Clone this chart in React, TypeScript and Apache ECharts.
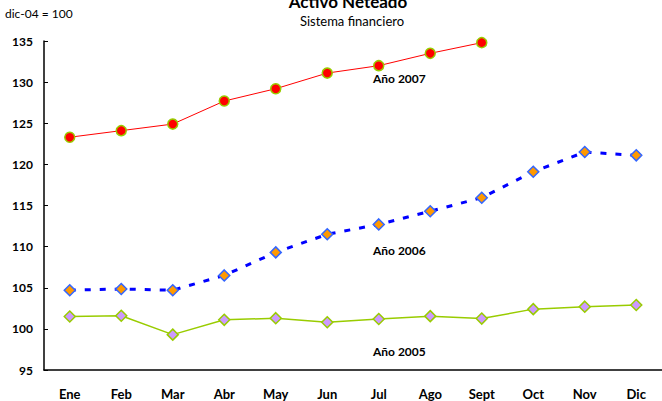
import React, { useEffect, useRef } from "react";
import * as echarts from "echarts";

const months = ["Ene", "Feb", "Mar", "Abr", "May", "Jun", "Jul", "Ago", "Sept", "Oct", "Nov", "Dic"];

const year2007 = [123.3, 124.1, 124.9, 127.7, 129.2, 131.1, 132.0, 133.5, 134.8];
const year2006 = [104.7, 104.85, 104.7, 106.5, 109.3, 111.5, 112.7, 114.3, 115.95, 119.1, 121.5, 121.1];
const year2005 = [101.5, 101.6, 99.3, 101.1, 101.3, 100.8, 101.2, 101.55, 101.25, 102.4, 102.7, 102.9];

const yTicks = { min: 95, max: 135, interval: 5 };

const FONT = "Lato, 'Open Sans', sans-serif";

export default function App() {
  const ref = useRef<HTMLDivElement>(null);

  useEffect(() => {
    if (!ref.current) return;
    const chart = echarts.init(ref.current, undefined, { renderer: "svg" });
    chart.setOption({
      animation: false,
      backgroundColor: "#ffffff",
      textStyle: { fontFamily: FONT },
      grid: { left: 44, top: 41, bottom: 31, width: 619, containLabel: false },
      xAxis: {
        type: "category",
        data: months,
        boundaryGap: true,
        axisLine: { lineStyle: { color: "#000", width: 1.5 } },
        axisTick: { inside: true, length: 4, lineStyle: { color: "#555" } },
        axisLabel: { color: "#000", fontWeight: "bold", fontSize: 13, margin: 17, fontFamily: FONT },
        splitLine: { show: false },
      },
      yAxis: {
        type: "value",
        min: yTicks.min,
        max: yTicks.max,
        interval: yTicks.interval,
        axisLine: { show: true, lineStyle: { color: "#000", width: 1.5 } },
        axisTick: { show: true, inside: true, length: 4, lineStyle: { color: "#000" } },
        axisLabel: { color: "#000", fontWeight: "bold", fontSize: 12, margin: 11, fontFamily: FONT },
        splitLine: { show: false },
      },
      graphic: [
        {
          type: "text",
          style: { text: "Activo Neteado", x: 348, y: -7, align: "center", font: `bold 17px ${FONT}`, fill: "#000" },
        },
        {
          type: "text",
          style: { text: "Sistema financiero", x: 352, y: 14, align: "center", font: `13px ${FONT}`, fill: "#000" },
        },
        {
          type: "text",
          style: { text: "dic-04 = 100", x: 5, y: 7, font: `12px ${FONT}`, fill: "#000" },
        },
        {
          type: "text",
          style: { text: "Año 2007", x: 373, y: 72, font: `bold 12px ${FONT}`, fill: "#000" },
        },
        {
          type: "text",
          style: { text: "Año 2006", x: 373, y: 244, font: `bold 12px ${FONT}`, fill: "#000" },
        },
        {
          type: "text",
          style: { text: "Año 2005", x: 373, y: 345, font: `bold 12px ${FONT}`, fill: "#000" },
        },
      ],
      series: [
        {
          name: "Año 2005",
          type: "line",
          data: year2005,
          symbol: "diamond",
          symbolSize: 11,
          lineStyle: { color: "#99cc00", width: 1.5 },
          itemStyle: { color: "#cc99ff", borderColor: "#99cc00", borderWidth: 1.5 },
        },
        {
          name: "Año 2006",
          type: "line",
          data: year2006,
          symbol: "diamond",
          symbolSize: 11,
          lineStyle: { color: "#0000ff", width: 3, type: [6, 9] },
          itemStyle: { color: "#ff9900", borderColor: "#3366ff", borderWidth: 1.5 },
        },
        {
          name: "Año 2007",
          type: "line",
          data: year2007,
          symbol: "circle",
          symbolSize: 10,
          lineStyle: { color: "#ff0000", width: 1 },
          itemStyle: { color: "#ff0000", borderColor: "#99cc00", borderWidth: 1.5 },
        },
      ],
    });
    return () => chart.dispose();
  }, []);

  return <div ref={ref} style={{ width: 662, height: 401, position: "absolute", left: 0, top: 0 }} />;
}
